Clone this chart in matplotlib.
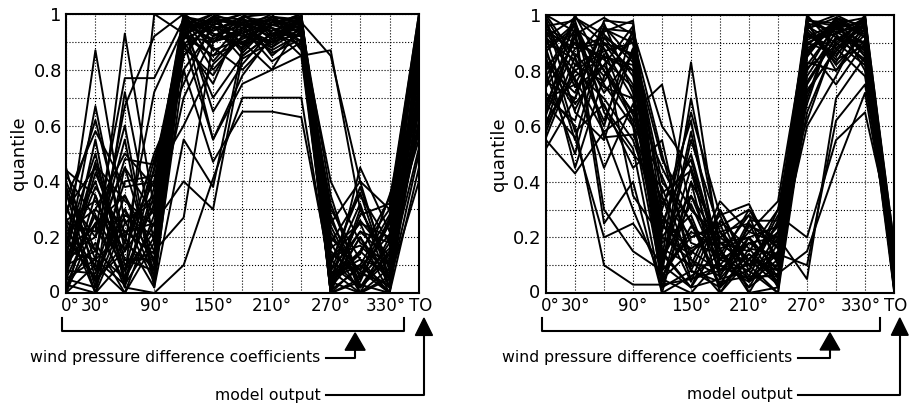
import numpy as np
import matplotlib.pyplot as plt
import matplotlib.transforms as mtrans

# axes: wind directions 0..330 deg and the model output TO
positions = list(range(13))
tick_pos = [0, 1, 3, 5, 7, 9, 11, 12]
tick_labels = ["0°", "30°", "90°", "150°", "210°", "270°", "330°", "TO"]

# left panel: quantiles of each sample (0°, 30°, ..., 330°, TO)
left_lines = [
    [0.05, 0.12, 0.03, 0.20, 0.95, 0.98, 0.96, 0.92, 0.97, 0.05, 0.10, 0.02, 0.85],
    [0.20, 0.05, 0.15, 0.30, 0.98, 0.90, 0.93, 0.97, 0.99, 0.10, 0.02, 0.15, 0.95],
    [0.30, 0.45, 0.10, 0.15, 0.92, 0.85, 0.97, 0.88, 0.95, 0.02, 0.20, 0.05, 0.70],
    [0.10, 0.25, 0.35, 0.08, 0.88, 0.96, 0.90, 0.95, 0.92, 0.15, 0.05, 0.25, 0.98],
    [0.02, 0.30, 0.20, 0.40, 1.00, 0.93, 0.88, 0.99, 0.90, 0.00, 0.30, 0.10, 0.60],
    [0.40, 0.15, 0.05, 0.25, 0.85, 0.99, 0.95, 0.90, 0.98, 0.20, 0.08, 0.00, 0.90],
    [0.15, 0.87, 0.25, 0.35, 0.97, 0.80, 0.92, 0.96, 1.00, 0.05, 0.15, 0.30, 1.00],
    [0.25, 0.00, 0.45, 0.10, 0.90, 0.75, 0.99, 0.85, 0.94, 0.25, 0.40, 0.05, 0.75],
    [0.08, 0.55, 0.02, 0.45, 0.95, 0.70, 0.85, 0.93, 0.96, 0.08, 0.00, 0.20, 0.55],
    [0.35, 0.20, 0.60, 0.05, 0.80, 0.95, 0.97, 0.98, 0.88, 0.30, 0.12, 0.08, 0.80],
    [0.00, 0.10, 0.93, 0.30, 0.99, 0.88, 0.80, 0.91, 0.99, 0.12, 0.25, 0.02, 0.92],
    [0.12, 0.67, 0.15, 0.50, 0.75, 0.97, 0.93, 0.87, 0.93, 0.00, 0.05, 0.35, 0.65],
    [0.45, 0.05, 0.30, 0.12, 0.93, 0.85, 0.90, 0.80, 0.97, 0.35, 0.02, 0.12, 0.88],
    [0.18, 0.40, 0.08, 0.22, 0.70, 0.92, 0.98, 0.95, 0.85, 0.03, 0.20, 0.00, 0.45],
    [0.05, 0.02, 0.72, 0.18, 0.96, 1.00, 0.87, 0.97, 0.95, 0.18, 0.35, 0.18, 0.97],
    [0.28, 0.62, 0.20, 0.02, 0.88, 0.78, 0.95, 0.83, 0.90, 0.07, 0.10, 0.28, 0.78],
    [0.22, 0.30, 0.50, 0.38, 0.98, 0.65, 0.82, 0.94, 0.98, 0.28, 0.00, 0.06, 0.68],
    [0.02, 0.18, 0.00, 0.28, 0.92, 0.90, 0.99, 1.00, 0.87, 0.02, 0.45, 0.22, 0.95],
    [0.38, 0.08, 0.40, 0.42, 0.60, 0.82, 0.92, 0.88, 0.99, 0.14, 0.07, 0.03, 0.50],
    [0.10, 0.47, 0.12, 0.08, 0.99, 0.96, 0.84, 0.90, 0.93, 0.40, 0.18, 0.10, 0.82],
    [0.32, 0.00, 0.25, 0.33, 0.90, 0.55, 0.78, 0.92, 0.96, 0.00, 0.28, 0.32, 1.00],
    [0.00, 0.35, 0.05, 1.00, 0.93, 0.98, 0.96, 0.86, 0.91, 0.22, 0.02, 0.14, 0.72],
    [0.15, 0.12, 0.67, 0.92, 1.00, 0.87, 0.91, 0.96, 0.94, 0.06, 0.12, 0.00, 0.88],
    [0.25, 0.22, 0.77, 0.77, 0.98, 0.93, 0.89, 0.99, 0.97, 0.10, 0.38, 0.08, 0.62],
    [0.06, 0.43, 0.18, 0.72, 0.95, 0.97, 1.00, 0.93, 0.89, 0.32, 0.05, 0.25, 0.93],
    [0.42, 0.27, 0.02, 0.00, 0.10, 0.41, 0.70, 0.70, 0.70, 0.05, 0.22, 0.12, 0.58],
    [0.20, 0.05, 0.35, 0.15, 0.27, 0.90, 0.95, 0.98, 0.95, 0.12, 0.02, 0.18, 0.77],
    [0.12, 0.38, 0.22, 0.25, 0.40, 0.30, 0.85, 0.93, 0.92, 0.02, 0.15, 0.05, 0.85],
    [0.30, 0.15, 0.55, 0.02, 0.55, 0.38, 0.88, 0.96, 0.98, 0.20, 0.08, 0.26, 0.96],
    [0.05, 0.28, 0.08, 0.48, 0.80, 0.47, 0.65, 0.65, 0.63, 0.08, 0.32, 0.02, 0.70],
    [0.36, 0.02, 0.28, 0.20, 0.97, 0.55, 0.75, 0.80, 0.85, 0.87, 0.30, 0.10, 0.90],
    [0.18, 0.50, 0.05, 0.35, 0.85, 0.98, 0.97, 0.99, 0.97, 0.85, 0.40, 0.30, 0.98],
    [0.08, 0.07, 0.30, 0.06, 0.98, 0.95, 0.92, 0.90, 0.99, 0.04, 0.00, 0.05, 0.40],
    [0.26, 0.33, 0.15, 0.44, 0.93, 0.99, 0.98, 0.96, 1.00, 0.16, 0.25, 0.20, 0.99],
    [0.14, 0.20, 0.45, 0.28, 1.00, 0.92, 0.96, 0.98, 0.96, 0.00, 0.10, 0.00, 0.66],
    [0.03, 0.00, 0.12, 0.12, 0.96, 0.94, 0.99, 0.97, 0.99, 0.26, 0.06, 0.16, 0.74],
    [0.34, 0.58, 0.38, 0.40, 0.99, 0.97, 0.93, 0.99, 0.98, 0.11, 0.36, 0.04, 0.91],
    [0.22, 0.10, 0.00, 0.18, 0.94, 1.00, 0.96, 0.94, 0.97, 0.04, 0.14, 0.34, 0.86],
    [0.00, 0.25, 0.26, 0.04, 0.97, 0.90, 0.94, 0.89, 0.98, 0.18, 0.00, 0.09, 0.52],
    [0.44, 0.35, 0.08, 0.32, 0.91, 0.96, 1.00, 0.92, 0.95, 0.08, 0.22, 0.18, 0.80],
    [0.10, 0.15, 0.48, 0.46, 0.89, 0.99, 0.89, 0.99, 0.93, 0.00, 0.04, 0.27, 0.94],
    [0.27, 0.04, 0.18, 0.09, 0.99, 0.83, 0.95, 1.00, 1.00, 0.13, 0.17, 0.07, 0.60],
    [0.07, 0.46, 0.33, 0.24, 0.96, 0.91, 0.97, 0.95, 0.90, 0.24, 0.03, 0.00, 0.83],
    [0.16, 0.24, 0.04, 0.38, 0.92, 0.99, 0.86, 0.97, 0.99, 0.06, 0.26, 0.13, 0.97],
    [0.38, 0.12, 0.22, 0.14, 0.97, 0.94, 0.98, 0.91, 0.94, 0.01, 0.09, 0.21, 0.71],
]

# right panel
right_lines = [
    [0.95, 0.90, 0.85, 0.80, 0.20, 0.35, 0.10, 0.05, 0.15, 0.90, 0.95, 0.98, 0.10],
    [0.80, 0.97, 0.75, 0.60, 0.05, 0.15, 0.22, 0.12, 0.03, 0.85, 0.98, 0.92, 0.05],
    [0.70, 0.75, 0.95, 0.90, 0.35, 0.05, 0.08, 0.18, 0.20, 0.95, 0.85, 1.00, 0.15],
    [1.00, 0.85, 0.60, 0.95, 0.10, 0.45, 0.15, 0.02, 0.10, 0.75, 0.92, 0.88, 0.02],
    [0.60, 0.95, 0.88, 0.70, 0.45, 0.25, 0.02, 0.25, 0.05, 0.98, 0.80, 0.95, 0.12],
    [0.88, 0.55, 0.92, 0.85, 0.02, 0.08, 0.30, 0.10, 0.25, 0.80, 0.97, 0.85, 0.08],
    [0.92, 0.80, 0.70, 0.55, 0.25, 0.50, 0.12, 0.30, 0.12, 1.00, 0.88, 0.97, 0.18],
    [0.52, 0.70, 0.98, 0.97, 0.15, 0.02, 0.05, 0.08, 0.00, 0.70, 0.99, 0.80, 0.04],
    [0.75, 1.00, 0.80, 0.65, 0.75, 0.30, 0.18, 0.15, 0.30, 0.88, 0.75, 0.90, 0.10],
    [0.98, 0.65, 0.55, 0.88, 0.08, 0.20, 0.25, 0.00, 0.18, 0.92, 0.93, 0.99, 0.06],
    [0.65, 0.88, 0.90, 0.75, 0.30, 0.62, 0.08, 0.20, 0.08, 0.65, 0.90, 0.82, 0.14],
    [0.85, 0.45, 0.78, 0.92, 0.50, 0.12, 0.00, 0.12, 0.22, 0.97, 0.82, 0.93, 0.01],
    [0.90, 0.93, 0.25, 0.40, 0.00, 0.40, 0.20, 0.28, 0.02, 0.82, 0.96, 0.87, 0.16],
    [0.62, 0.78, 0.85, 0.82, 0.12, 0.83, 0.15, 0.05, 0.14, 0.60, 0.78, 0.98, 0.09],
    [0.96, 0.98, 0.65, 0.50, 0.38, 0.10, 0.33, 0.22, 0.33, 0.95, 0.99, 0.92, 0.03],
    [0.72, 0.60, 0.10, 0.03, 0.03, 0.05, 0.10, 0.05, 0.07, 0.15, 0.45, 0.72, 0.12],
    [0.82, 0.72, 0.95, 0.94, 0.60, 0.45, 0.05, 0.18, 0.12, 0.90, 0.86, 0.95, 0.07],
    [0.55, 0.43, 0.58, 0.30, 0.05, 0.00, 0.12, 0.08, 0.28, 0.20, 0.55, 0.65, 0.19],
    [0.94, 0.88, 0.92, 0.78, 0.22, 0.65, 0.28, 0.32, 0.10, 0.99, 0.92, 0.90, 0.11],
    [0.68, 0.92, 0.72, 0.86, 0.18, 0.28, 0.02, 0.14, 0.04, 0.78, 0.94, 0.96, 0.02],
    [0.99, 0.82, 0.88, 0.60, 0.42, 0.18, 0.14, 0.02, 0.20, 0.05, 0.70, 0.85, 0.14],
    [0.78, 0.95, 0.30, 0.15, 0.08, 0.55, 0.22, 0.25, 0.16, 0.87, 0.97, 0.99, 0.05],
    [0.86, 0.68, 0.82, 0.96, 0.28, 0.15, 0.08, 0.10, 0.00, 0.93, 0.88, 0.78, 0.17],
    [0.58, 0.85, 0.97, 0.72, 0.02, 0.35, 0.18, 0.20, 0.24, 0.68, 0.99, 0.94, 0.08],
    [0.92, 0.58, 0.68, 0.45, 0.55, 0.08, 0.04, 0.06, 0.06, 0.96, 0.90, 0.99, 0.03],
    [0.74, 0.90, 0.78, 0.92, 0.14, 0.02, 0.26, 0.16, 0.14, 0.83, 0.80, 0.91, 0.13],
    [0.97, 0.76, 0.45, 0.68, 0.32, 0.48, 0.10, 0.22, 0.18, 0.91, 0.96, 0.86, 0.06],
    [0.66, 0.99, 0.93, 0.83, 0.06, 0.22, 0.16, 0.00, 0.02, 0.73, 0.87, 0.97, 0.10],
    [0.84, 0.66, 0.86, 0.35, 0.20, 0.12, 0.06, 0.26, 0.26, 0.99, 0.93, 0.83, 0.01],
    [0.90, 0.84, 0.62, 0.88, 0.48, 0.30, 0.20, 0.12, 0.08, 0.86, 0.99, 0.96, 0.15],
    [0.64, 0.93, 0.99, 0.93, 0.10, 0.58, 0.12, 0.18, 0.12, 0.94, 0.84, 0.89, 0.09],
    [0.98, 0.74, 0.82, 0.64, 0.26, 0.04, 0.30, 0.08, 0.30, 0.62, 0.91, 0.98, 0.04],
    [0.79, 0.50, 0.90, 0.80, 0.04, 0.40, 0.00, 0.16, 0.04, 0.89, 0.98, 0.93, 0.12],
    [0.88, 0.97, 0.56, 0.57, 0.34, 0.20, 0.24, 0.30, 0.16, 0.97, 0.94, 0.88, 0.07],
    [0.70, 0.62, 0.94, 0.98, 0.16, 0.10, 0.10, 0.04, 0.22, 0.81, 0.89, 0.99, 0.18],
    [0.95, 0.86, 0.74, 0.70, 0.08, 0.70, 0.18, 0.10, 0.10, 0.92, 0.97, 0.94, 0.02],
    [0.60, 0.80, 0.87, 0.90, 0.40, 0.26, 0.03, 0.20, 0.02, 0.76, 0.92, 0.84, 0.11],
    [0.87, 0.96, 0.67, 0.52, 0.00, 0.06, 0.14, 0.28, 0.18, 0.98, 0.96, 0.97, 0.06],
    [0.76, 0.70, 0.96, 0.84, 0.24, 0.16, 0.22, 0.06, 0.26, 0.85, 0.99, 0.92, 0.13],
    [1.00, 0.94, 0.80, 0.62, 0.12, 0.32, 0.08, 0.14, 0.06, 0.94, 0.83, 1.00, 0.05],
    [0.68, 0.56, 0.20, 0.25, 0.10, 0.02, 0.18, 0.10, 0.14, 0.10, 0.62, 0.75, 0.16],
    [0.92, 0.99, 0.90, 0.86, 0.36, 0.44, 0.06, 0.24, 0.20, 0.96, 1.00, 0.95, 0.08],
    [0.56, 0.82, 0.76, 0.94, 0.20, 0.14, 0.28, 0.04, 0.12, 0.88, 0.95, 0.90, 0.03],
    [0.82, 0.90, 0.84, 0.74, 0.06, 0.24, 0.16, 0.20, 0.08, 0.72, 0.88, 0.96, 0.12],
    [0.94, 0.77, 0.58, 0.66, 0.28, 0.08, 0.02, 0.12, 0.24, 0.98, 0.97, 0.89, 0.09],
]


def shift(lbl, dx, dy, fig):
    # nudge a tick label by a few pixels
    lbl.set_transform(lbl.get_transform() +
                      mtrans.ScaledTranslation(dx / 100, dy / 100, fig.dpi_scale_trans))


def draw_panel(fig, ax, lines, arrow1_x, arrow2_x, stem_end):
    for row in lines:
        ax.plot(positions, row, color="black", lw=1.4)
    ax.set_xlim(0, 12)
    ax.set_ylim(0, 1)
    ax.set_xticks(positions, minor=True)
    ax.set_yticks(np.arange(0, 1.01, 0.1), minor=True)
    ax.set_xticks(tick_pos)
    ax.set_xticklabels(tick_labels, fontsize=12)
    ax.set_yticks([0, 0.2, 0.4, 0.6, 0.8, 1])
    ax.set_yticklabels(["0", "0.2", "0.4", "0.6", "0.8", "1"], fontsize=13)
    ax.tick_params(which="both", length=0, pad=3)
    ax.grid(which="both", color="black", ls=":", lw=0.8)
    ax.set_axisbelow(True)
    for s in ax.spines.values():
        s.set_linewidth(1.5)
    ax.set_ylabel("quantile", fontsize=13, labelpad=4)

    xl = ax.get_xticklabels()
    shift(xl[0], 4, 0, fig)
    shift(xl[-2], -4, 0, fig)
    shift(xl[-1], 2, 0, fig)
    shift(ax.get_yticklabels()[0], -2, 2, fig)

    # bracket under the wind pressure axes
    ax.plot([-0.15, -0.15, 11.5, 11.5], [-0.09, -0.135, -0.135, -0.09],
            color="black", lw=1.5, clip_on=False)
    # arrow to the bracket
    w = 0.34
    ax.fill([arrow1_x - w, arrow1_x, arrow1_x + w], [-0.205, -0.143, -0.205],
            color="black", clip_on=False)
    ax.plot([arrow1_x, arrow1_x, stem_end], [-0.205, -0.233, -0.233],
            color="black", lw=1.5, clip_on=False)
    ax.text(stem_end - 0.2, -0.233, "wind pressure difference coefficients",
            ha="right", va="center", fontsize=11.3, clip_on=False)
    # arrow to the model output
    w = 0.29
    ax.fill([arrow2_x - w, arrow2_x, arrow2_x + w], [-0.152, -0.09, -0.152],
            color="black", clip_on=False)
    ax.plot([arrow2_x, arrow2_x, stem_end], [-0.152, -0.366, -0.366],
            color="black", lw=1.5, clip_on=False)
    ax.text(stem_end - 0.2, -0.366, "model output",
            ha="right", va="center", fontsize=11.3, clip_on=False)


fig = plt.figure(figsize=(9.09, 4.04), dpi=100)
ax1 = fig.add_axes([0.0726, 0.2748, 0.3883, 0.6906])
ax2 = fig.add_axes([0.6007, 0.2748, 0.3828, 0.6880])

draw_panel(fig, ax1, left_lines, 9.83, 12.17, 8.85)
draw_panel(fig, ax2, right_lines, 9.79, 12.2, 8.7)

fig.savefig("out.png", dpi=100)
